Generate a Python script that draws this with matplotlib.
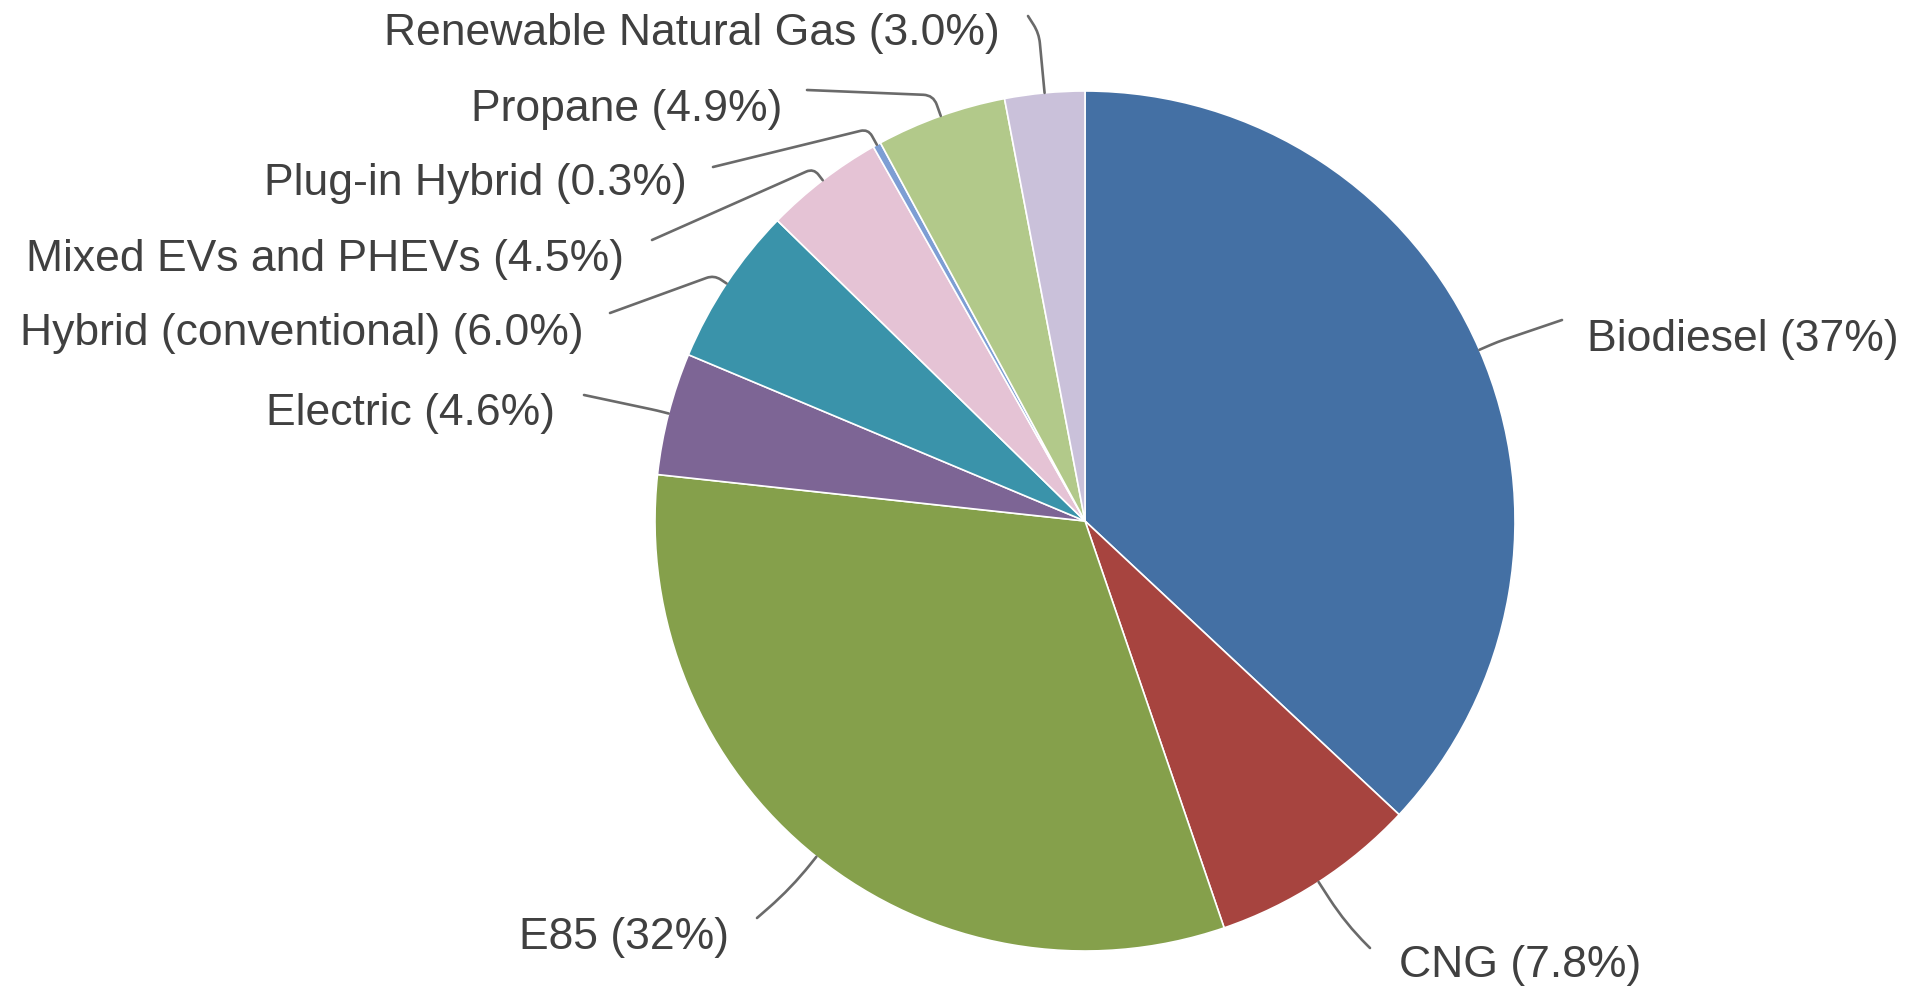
import numpy as np
import matplotlib
matplotlib.use("Agg")
import matplotlib.pyplot as plt
from matplotlib.path import Path
from matplotlib.patches import PathPatch

# ---- data ----
categories = ["Biodiesel", "CNG", "E85", "Electric", "Hybrid (conventional)",
              "Mixed EVs and PHEVs", "Plug-in Hybrid", "Propane",
              "Renewable Natural Gas"]
values = [37.0, 7.8, 32.0, 4.6, 6.0, 4.5, 0.3, 4.9, 3.0]
pct_labels = ["37%", "7.8%", "32%", "4.6%", "6.0%", "4.5%", "0.3%", "4.9%", "3.0%"]
colors = ["#4470A4", "#A7443F", "#85A04B", "#7D6595", "#3A93AA",
          "#E5C3D5", "#7D9ED4", "#B2C98A", "#CAC1DA"]

# ---- layout (pixel coordinates, y downward) ----
W, H = 1908, 989
center = (1085, 521)
radius = 430
# label text anchor (x, y), alignment, leader end point, radial stub length, corner rounding
label_pos = [
    ((1587, 339), "left", (1562, 320), 20, 8),
    ((1399, 966), "left", (1370, 948), 50, 30),
    ((729, 938), "right", (757, 918), 40, 30),
    ((555, 414), "right", (584, 395), 12, 6),
    ((584, 333), "right", (610, 313), 15, 8),
    ((624, 259), "right", (652, 240), 15, 8),
    ((687, 183), "right", (713, 167), 18, 8),
    ((782, 109), "right", (807, 90), 22, 10),
    ((1000, 33), "right", (1028, 16), 60, 10),
]

plt.rcParams["font.family"] = ["Liberation Sans", "DejaVu Sans"]
fig = plt.figure(figsize=(W / 100, H / 100), dpi=100)
ax = fig.add_axes([0, 0, 1, 1])

wedges, _ = ax.pie(values, colors=colors, center=center, radius=radius,
                   startangle=270, counterclock=True,
                   wedgeprops=dict(edgecolor="white", linewidth=1.2))
ax.set_xlim(0, W)
ax.set_ylim(H, 0)
ax.set_aspect("equal")
ax.axis("off")

text_color = "#404040"
line_color = "#6A6A6A"

for w, cat, pl, (tpos, ha, end, d, rr) in zip(wedges, categories, pct_labels, label_pos):
    mid = np.deg2rad((w.theta1 + w.theta2) / 2)
    u = np.array([np.cos(mid), np.sin(mid)])
    c = np.array(center, dtype=float)
    p0 = c + radius * u
    p1 = c + (radius + d) * u
    p2 = np.array(end, dtype=float)
    rr = min(rr, d * 0.8)
    a = p1 - rr * u
    v = (p2 - p1) / np.linalg.norm(p2 - p1)
    b = p1 + rr * v
    path = Path([p0, a, p1, b, p2],
                [Path.MOVETO, Path.LINETO, Path.CURVE3, Path.CURVE3, Path.LINETO])
    ax.add_patch(PathPatch(path, facecolor="none", edgecolor=line_color,
                           linewidth=1.9, capstyle="round", joinstyle="round"))
    ax.text(tpos[0], tpos[1], f"{cat} ({pl})", ha=ha, va="center",
            fontsize=32, color=text_color)

fig.savefig("out.png", dpi=100, facecolor="white")
